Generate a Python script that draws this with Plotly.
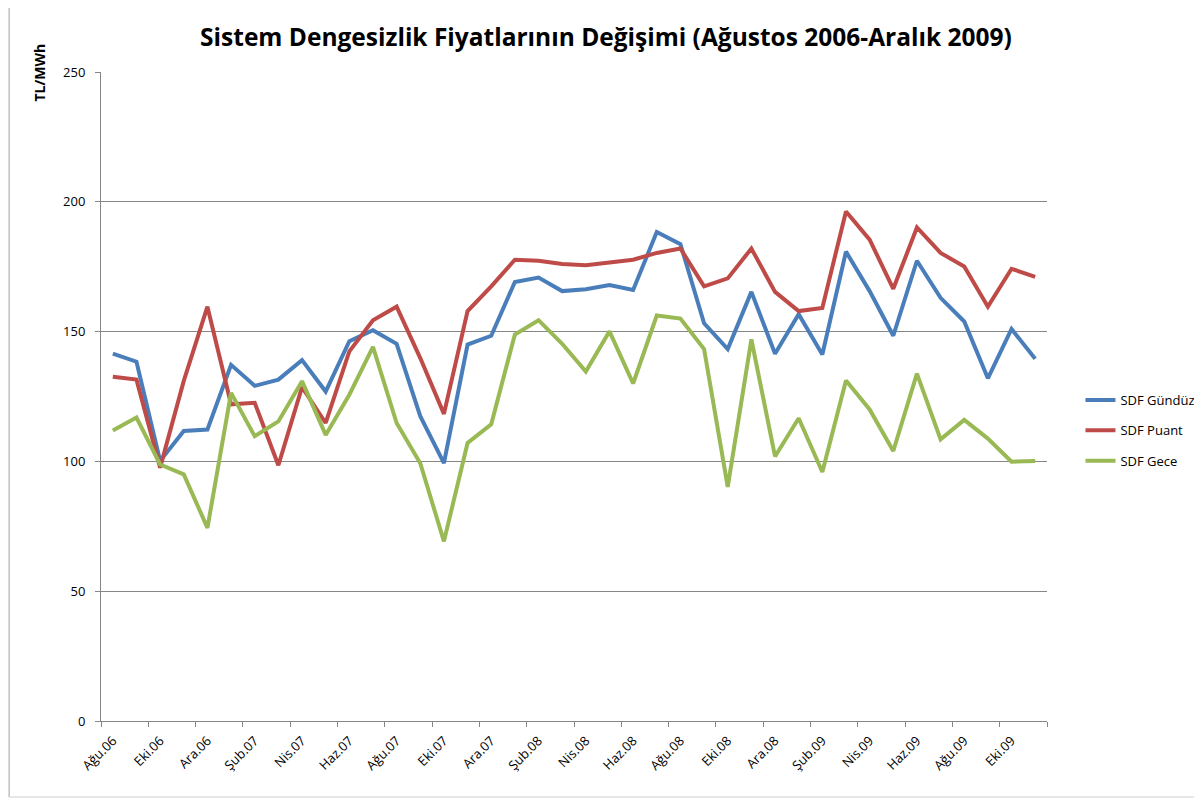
import plotly.graph_objects as go

months = ["Ağu.06", "Eyl.06", "Eki.06", "Kas.06", "Ara.06", "Oca.07", "Şub.07", "Mar.07",
          "Nis.07", "May.07", "Haz.07", "Tem.07", "Ağu.07", "Eyl.07", "Eki.07", "Kas.07",
          "Ara.07", "Oca.08", "Şub.08", "Mar.08", "Nis.08", "May.08", "Haz.08", "Tem.08",
          "Ağu.08", "Eyl.08", "Eki.08", "Kas.08", "Ara.08", "Oca.09", "Şub.09", "Mar.09",
          "Nis.09", "May.09", "Haz.09", "Tem.09", "Ağu.09", "Eyl.09", "Eki.09", "Kas.09"]

sdf_gunduz = [141.5, 138.4, 100.2, 111.7, 112.3, 137.2, 129.1, 131.5, 139.0, 126.9,
              146.3, 150.5, 145.3, 117.4, 99.3, 145.0, 148.4, 169.1, 170.8, 165.6,
              166.3, 167.9, 166.0, 188.4, 183.7, 153.2, 143.3, 165.3, 141.5, 156.7,
              141.2, 180.8, 165.6, 148.4, 177.3, 163.0, 153.9, 132.0, 151.0, 139.5]

sdf_puant = [132.6, 131.5, 97.6, 131.0, 159.6, 122.0, 122.6, 98.5, 128.6, 114.8,
             142.4, 154.4, 159.6, 139.8, 118.3, 157.9, 167.4, 177.7, 177.3, 176.0,
             175.6, 176.8, 177.7, 180.3, 182.0, 167.4, 170.5, 182.0, 165.3, 157.9,
             159.1, 196.3, 185.4, 166.5, 190.1, 180.3, 175.1, 159.6, 174.2, 171.1]

sdf_gece = [111.9, 116.9, 98.8, 95.0, 74.4, 126.4, 109.7, 115.4, 130.9, 110.2,
            125.7, 144.1, 114.8, 99.3, 69.2, 107.1, 114.3, 148.9, 154.4, 145.3,
            134.6, 150.1, 130.0, 156.2, 155.0, 143.3, 90.2, 147.0, 101.9, 116.6,
            95.9, 131.2, 120.0, 104.0, 133.8, 108.5, 116.0, 108.8, 99.9, 100.2]

series = [("SDF Gündüz", sdf_gunduz, "#4A7EBB"),
          ("SDF Puant", sdf_puant, "#BE4B48"),
          ("SDF Gece", sdf_gece, "#98B954")]

fig = go.Figure()
for i, (name, vals, col) in enumerate(series):
    fig.add_trace(go.Scatter(x=months, y=vals, name=name, mode="lines",
                             line=dict(color=col, width=4),
                             legendgroup=f"g{i}"))

# page body has an 8px margin; work in page coordinates and shift
OFF = 8
W, H = 1202 - OFF, 803 - OFF
PL, PR, PT, PB = 100.5, 1047.5, 72, 721   # plot area in page coords
L, R, T, B = PL - OFF, W - (PR - OFF), PT - OFF, H - (PB - OFF)
PW, PH = PR - PL, PB - PT


def px(x):
    return (x - PL) / PW


def py(y):
    return (PB - y) / PH


fig.update_layout(
    width=W, height=H,
    margin=dict(l=L, r=R, t=T, b=B, autoexpand=False),
    paper_bgcolor="white", plot_bgcolor="white",
    font=dict(family="Open Sans, Arial, sans-serif", size=13, color="black"),
    title=dict(text="<b>Sistem Dengesizlik Fiyatlarının Değişimi (Ağustos 2006-Aralık 2009)</b>",
               x=px(606) * PW / W + L / W, xanchor="center",
               y=1 - (37 - OFF) / H, yanchor="middle",
               font=dict(size=24.5, family="Open Sans, Arial, sans-serif", color="black")),
    xaxis=dict(type="category", tickangle=-45, dtick=2, tickson="boundaries",
               ticks="outside", ticklen=5, tickcolor="#868686",
               showline=True, linecolor="#868686", linewidth=1,
               showgrid=False, tickfont=dict(size=13), range=[-0.5, 39.5],
               ticklabelstandoff=6),
    yaxis=dict(range=[0, 250], dtick=50, ticks="outside", ticklen=5,
               tickcolor="#868686", showline=True, linecolor="#868686", linewidth=1,
               gridcolor="#868686", gridwidth=1, zeroline=False,
               tickfont=dict(size=13), ticklabelstandoff=7),
    legend=dict(x=px(1081), y=py(385),
                xanchor="left", yanchor="top", font=dict(size=13),
                tracegroupgap=10.5, bgcolor="rgba(0,0,0,0)"),
    showlegend=True,
)

fig.add_annotation(text="<b>TL/MWh</b>", textangle=-90, xref="paper", yref="paper",
                   x=px(38), y=py(73),
                   xanchor="center", yanchor="middle", showarrow=False,
                   font=dict(size=14, color="black"))

# chart-area border (left and bottom visible edges)
fig.add_shape(type="line", xref="paper", yref="paper",
              x0=px(8.5), x1=px(8.5), y0=py(797), y1=py(0),
              line=dict(color="#a0a0a0", width=1), layer="below")
fig.add_shape(type="line", xref="paper", yref="paper",
              x0=px(8.5), x1=px(1202), y0=py(797), y1=py(797),
              line=dict(color="#d0d0d0", width=1), layer="below")

fig.write_html("out.html")
